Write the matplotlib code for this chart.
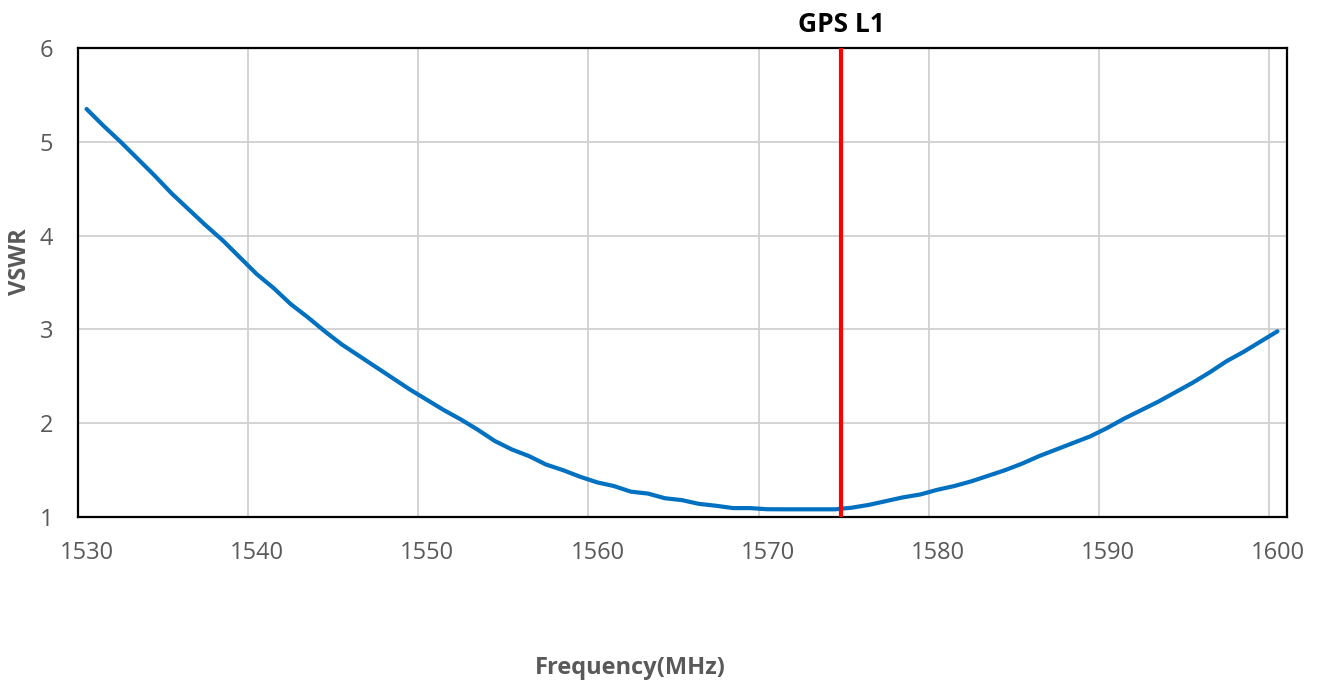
import matplotlib
matplotlib.use("Agg")
import matplotlib.pyplot as plt
import matplotlib.transforms as mtransforms
import numpy as np

# VSWR sweep
freq = np.arange(1530.5, 1601.0, 1.0)
vswr = [5.35, 5.17, 5.00, 4.82, 4.64, 4.45, 4.28, 4.11, 3.95, 3.77,
        3.59, 3.44, 3.27, 3.13, 2.98, 2.84, 2.72, 2.60, 2.48, 2.36,
        2.25, 2.14, 2.04, 1.93, 1.81, 1.72, 1.65, 1.56, 1.50, 1.43,
        1.37, 1.33, 1.27, 1.25, 1.20, 1.18, 1.14, 1.12, 1.095, 1.095,
        1.083, 1.082, 1.082, 1.082, 1.082, 1.10, 1.13, 1.17, 1.21, 1.24,
        1.29, 1.33, 1.38, 1.44, 1.50, 1.57, 1.65, 1.72, 1.79, 1.86,
        1.95, 2.05, 2.14, 2.23, 2.33, 2.43, 2.54, 2.66, 2.76, 2.87,
        2.98]
gps_l1 = 1574.85
x_ticks = [1530, 1540, 1550, 1560, 1570, 1580, 1590, 1600]
y_ticks = [1, 2, 3, 4, 5, 6]

plt.rcParams['font.family'] = ['Open Sans', 'DejaVu Sans']
grey = '#595959'

fig = plt.figure(figsize=(13.25, 6.81), dpi=100)
ax = fig.add_axes([0.0589, 0.2408, 0.9124, 0.6887])

ax.plot(freq, vswr, color='#0070C0', lw=3.0, solid_capstyle='round', zorder=3)
ax.axvline(gps_l1, color='#FF0000', lw=3.0, zorder=4)

ax.set_xlim(1530, 1601.06)
ax.set_ylim(1, 6)
ax.set_xticks(x_ticks)
ax.set_yticks(y_ticks)
ax.grid(True, color='#d0d0d0', lw=1.3)
ax.set_axisbelow(True)
ax.tick_params(length=0, labelsize=17, labelcolor=grey)
ax.tick_params(axis='y', pad=18)
ax.tick_params(axis='x', pad=17)
for s in ax.spines.values():
    s.set_color('black')
    s.set_linewidth(1.6)

# Excel-style: x labels sit a little right of their gridlines
offset = mtransforms.ScaledTranslation(9 / 100, 0, fig.dpi_scale_trans)
for lbl in ax.get_xticklabels():
    lbl.set_transform(lbl.get_transform() + offset)

top = mtransforms.blended_transform_factory(ax.transData, fig.transFigure)
ax.text(gps_l1, 1 - 24 / 681, 'GPS L1', transform=top,
        ha='center', va='center', fontsize=19, fontweight='bold', color='black')

fig.text(630 / 1325, 1 - 668 / 681, 'Frequency(MHz)', ha='center', va='center',
         fontsize=17, fontweight='bold', color=grey)
fig.text(20 / 1325, 1 - 262 / 681, 'VSWR', ha='center', va='center', rotation=90,
         fontsize=17, fontweight='bold', color=grey)

fig.savefig('out.png', dpi=100)
